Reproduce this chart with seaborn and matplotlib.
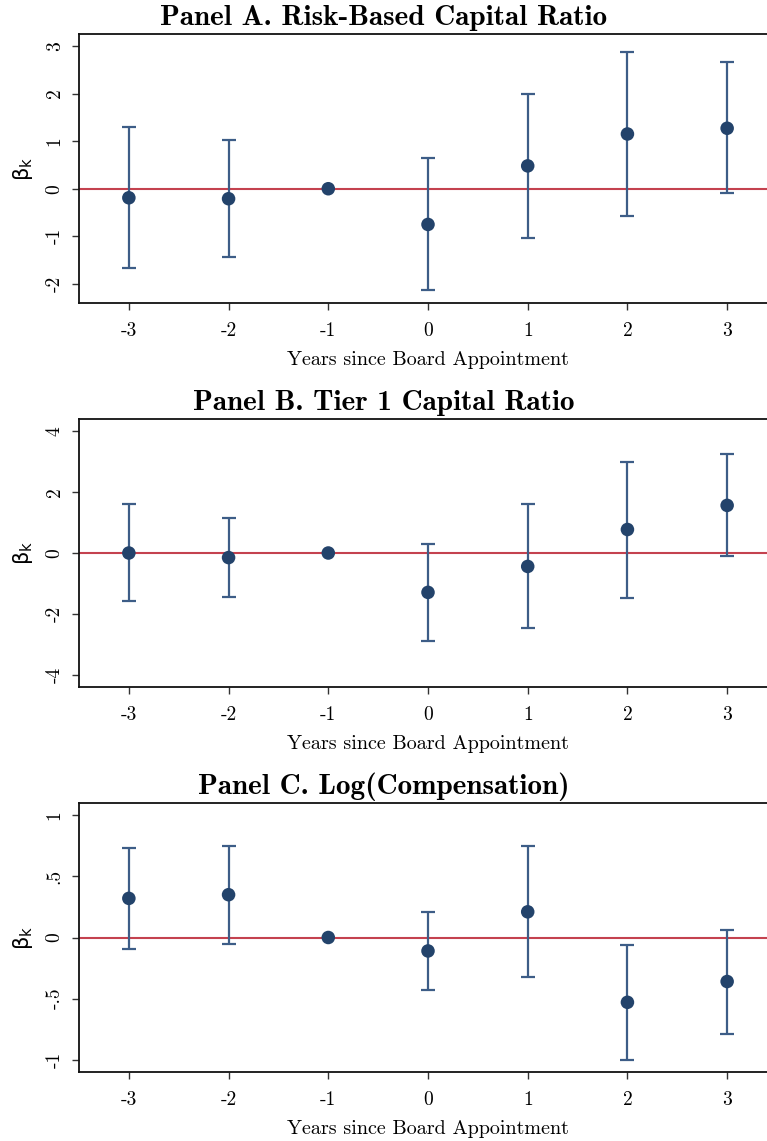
import numpy as np
import pandas as pd
import matplotlib
matplotlib.use("Agg")
import matplotlib.pyplot as plt
import seaborn as sns

# Event-time coefficients with 95% confidence bounds
years = [-3, -2, -1, 0, 1, 2, 3]

rbc_coef = [-0.19, -0.21, 0.0, -0.75, 0.48, 1.15, 1.27]
rbc_lo = [-1.66, -1.43, 0.0, -2.13, -1.03, -0.57, -0.10]
rbc_hi = [1.30, 1.03, 0.0, 0.64, 1.99, 2.87, 2.66]

tier1_coef = [0.0, -0.15, 0.0, -1.29, -0.44, 0.77, 1.56]
tier1_lo = [-1.58, -1.43, 0.0, -2.88, -2.47, -1.47, -0.09]
tier1_hi = [1.61, 1.14, 0.0, 0.30, 1.60, 2.98, 3.23]

comp_coef = [0.32, 0.35, 0.0, -0.11, 0.21, -0.53, -0.36]
comp_lo = [-0.09, -0.05, 0.0, -0.43, -0.32, -1.00, -0.79]
comp_hi = [0.73, 0.75, 0.0, 0.21, 0.75, -0.06, 0.06]

panel_titles = [
    "Panel A. Risk-Based Capital Ratio",
    "Panel B. Tier 1 Capital Ratio",
    "Panel C. Log(Compensation)",
]
ytick_values = [[-2, -1, 0, 1, 2, 3], [-4, -2, 0, 2, 4], [-1, -0.5, 0, 0.5, 1]]
ytick_labels = [["-2", "-1", "0", "1", "2", "3"],
                ["-4", "-2", "0", "2", "4"],
                ["-1", "-.5", "0", ".5", "1"]]
ylims = [(-2.4, 3.25), (-4.39, 4.39), (-1.1, 1.1)]
xlabel = "Years since Board Appointment"

sns.set_theme(style="ticks")
plt.rcParams["axes.unicode_minus"] = False
plt.rcParams["mathtext.fontset"] = "dejavusans"
plt.rcParams["text.color"] = "black"
plt.rcParams["axes.labelcolor"] = "black"
plt.rcParams["xtick.labelcolor"] = "black"
plt.rcParams["ytick.labelcolor"] = "black"

NAVY = "#23436b"
BAR = "#3d5d87"
RED = "#c4424f"

fig = plt.figure(figsize=(7.67, 11.41), dpi=100)
W, H = 767.0, 1141.0
# axes boxes in pixels: (left, top, bottom)
boxes = [(79, 34, 303), (79, 419, 687), (79, 803, 1072)]
title_y = [18, 403, 787]

panels = [
    (rbc_coef, rbc_lo, rbc_hi),
    (tier1_coef, tier1_lo, tier1_hi),
    (comp_coef, comp_lo, comp_hi),
]

for i, (coef, lo, hi) in enumerate(panels):
    left, top, bottom = boxes[i]
    right = 777
    ax = fig.add_axes([left / W, 1 - bottom / H, (right - left) / W, (bottom - top) / H])
    df = pd.DataFrame({"year": years, "coef": coef, "lo": lo, "hi": hi})
    ax.axhline(0, color=RED, lw=1.5, zorder=1)
    ci = df[df["hi"] != df["lo"]]
    ax.errorbar(ci["year"], ci["coef"],
                yerr=[ci["coef"] - ci["lo"], ci["hi"] - ci["coef"]],
                fmt="none", ecolor=BAR, elinewidth=1.6, capsize=5, capthick=1.6, zorder=2)
    sns.scatterplot(data=df, x="year", y="coef", ax=ax, color=NAVY, s=95,
                    edgecolor="none", zorder=3, legend=False)
    ax.set_xlim(-3.5, 3.5)
    ax.set_ylim(*ylims[i])
    ax.set_xticks(years)
    ax.set_xticklabels([str(y) for y in years], fontfamily="cmr10", fontsize=14)
    ax.set_yticks(ytick_values[i])
    ax.set_yticklabels(ytick_labels[i], fontfamily="cmr10", fontsize=14,
                       rotation=90, va="center")
    ax.tick_params(axis="both", length=5, width=1.0, color="#333333", pad=6)
    ax.tick_params(axis="x", pad=9)
    for s in ax.spines.values():
        s.set_linewidth(1.3)
        s.set_color("#111111")
    ax.set_xlabel(xlabel, fontfamily="cmr10", fontsize=14.5, labelpad=8)
    ax.set_ylabel(r"$\mathregular{\beta_k}$", fontsize=15, labelpad=8)
    fig.text(0.5, 1 - title_y[i] / H, panel_titles[i], ha="center", va="center",
             fontfamily="cmb10", fontsize=21, color="black")

fig.savefig("out.png", dpi=100, facecolor="white")
